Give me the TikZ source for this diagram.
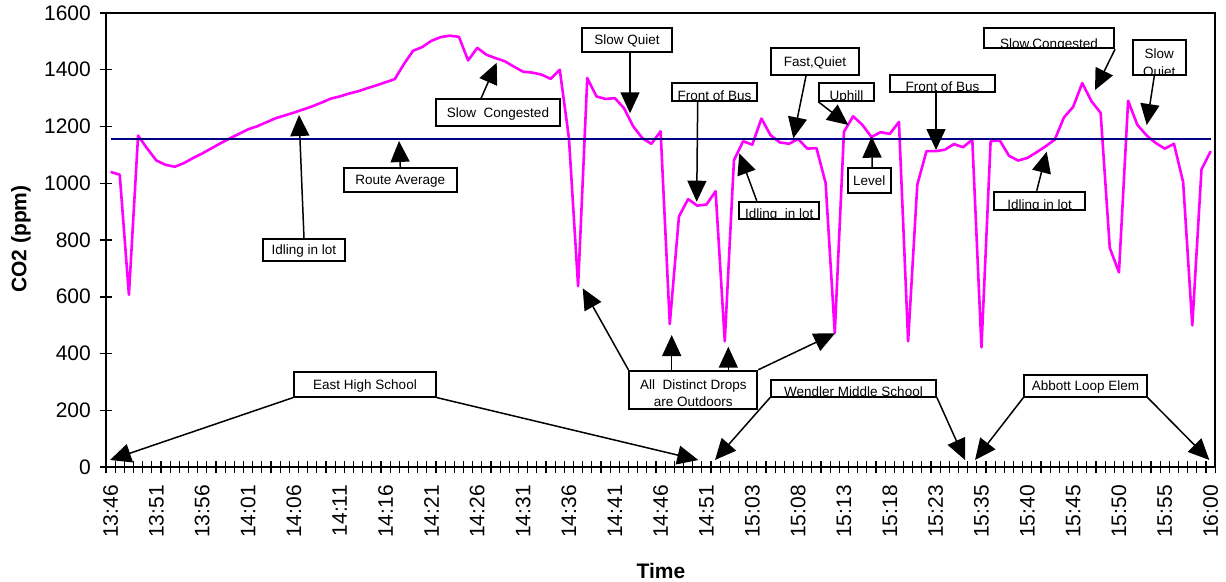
\documentclass[tikz,border=0pt]{standalone}
\usepackage{fontspec}
\setmainfont{Liberation Sans}
\usetikzlibrary{arrows.meta}
\definecolor{routeblue}{RGB}{0,0,128}
\definecolor{co2pink}{RGB}{255,0,255}
\newcommand{\notefont}{\fontsize{13.5}{17.5}\selectfont}
\newcommand{\axisfont}{\fontsize{21}{25}\selectfont}
\tikzset{
	note/.style={draw, line width=1.8pt, fill=white, inner sep=0pt, font=\notefont, text height=9.7pt, text depth=0pt},
	cutnote/.style={draw, line width=1.8pt, fill=white, inner sep=0pt,
		path picture={\node[font=\notefont, inner sep=0pt, minimum width=0pt, minimum height=0pt, anchor=base] at ([yshift=0.3pt]path picture bounding box.south) {#1};}},
	cutpair/.style={draw, line width=1.8pt, fill=white, inner sep=0pt,
		path picture={\node[font=\notefont, align=center, inner sep=0pt, minimum width=0pt, minimum height=0pt, anchor=north] at ([yshift=-8pt]path picture bounding box.north) {#1};}},
	pointer/.style={line width=1.5pt, -{Triangle[length=21pt,width=19pt]}},
}
\begin{document}
\begin{tikzpicture}[x=1pt, y=-1pt]
	\useasboundingbox (0,0) rectangle (1226,581);
	
	\begin{scope}[shift={(106,467)}, x=9.167pt, y=0.28375pt]
		\draw[co2pink, line width=2.6pt, line join=round] (0.5,1040)
		\foreach \v [count=\i] in {1030,607,1168,1122,1080,1065,1058,1071,1089,1105,
			1123,1141,1158,1174,1190,1201,1215,1229,1239,1249,
			1260,1271,1284,1298,1306,1316,1324,1335,1345,1356,
			1367,1420,1467,1480,1502,1515,1520,1516,1433,1477,
			1453,1441,1430,1411,1393,1390,1383,1368,1400,1159,
			637,1371,1306,1297,1300,1265,1201,1159,1139,1183,
			504,883,944,921,925,972,443,1081,1148,1136,
			1228,1169,1144,1139,1156,1122,1124,1001,472,1181,
			1236,1206,1163,1180,1174,1216,443,995,1113,1113,
			1118,1138,1127,1154,422,1148,1151,1097,1080,1089,
			1109,1130,1154,1232,1269,1353,1289,1248,772,686,
			1291,1206,1169,1142,1122,1139,1004,499,1048,1113} { -- (\i+0.5,\v) };
		\draw[routeblue, line width=2.8pt] (0.5,1156) -- (120.5,1156);
	\end{scope}
	
	\draw[line width=1.2pt] (106,13) -- (1215,13) -- (1215,467);
	\draw[line width=2pt] (106,13) -- (106,467) -- (1215,467);
	\foreach \k in {0,...,121}
		\draw[line width=1.2pt] ({106+9.167*\k},461) -- ({106+9.167*\k},473);
	\foreach \v in {0,200,...,1600} {
		\draw[line width=1.5pt] (100,{467-0.28375*\v}) -- (112,{467-0.28375*\v});
		\node[font=\axisfont, anchor=east, inner sep=0pt] (ylab\v) at (91,{467-0.28375*\v}) {\v};
	}
	\foreach \lab [count=\k from 0] in {13:46,13:51,13:56,14:01,14:06,14:11,14:16,14:21,14:26,14:31,14:36,14:41,14:46,14:51,15:03,15:08,15:13,15:18,15:23,15:35,15:40,15:45,15:50,15:55,16:00}
		\node[font=\axisfont, rotate=90, anchor=east, inner sep=0pt] (xlab\k) at ({106+9.167*(5*\k+0.5)},485) {\lab};
	\node[font=\axisfont\bfseries] (xtitle) at (661,571) {Time};
	\node[font=\axisfont\bfseries, rotate=90] (ytitle) at (21,239) {CO2 (ppm)};
	
	\node[note, minimum width=82pt, minimum height=22pt] (idle1) at (304,250) {Idling in lot};
	\node[note, minimum width=112.7pt, minimum height=24pt] (route) at (400.3,180) {Route Average};
	\node[note, minimum width=124pt, minimum height=26.7pt] (slowcong) at (498,112.7) {Slow\ \ Congested};
	\node[note, minimum width=90.6pt, minimum height=23.7pt] (slowq1) at (627,39.8) {Slow Quiet};
	\node[cutnote={Front of Bus}, minimum width=85.6pt, minimum height=17.4pt] (bus1) at (714.5,92) {};
	\node[note, minimum width=88.3pt, minimum height=27.3pt] (fastq) at (815,61.3) {Fast,Quiet};
	\node[cutnote={Uphill}, minimum width=55pt, minimum height=17.4pt] (uphill) at (846.5,92) {};
	\node[note, minimum width=43pt, minimum height=25pt] (level) at (869.2,180.2) {Level};
	\node[cutnote={Front of Bus}, minimum width=105pt, minimum height=17pt] (bus2) at (942.5,83.5) {};
	\node[cutnote={Idling\ \ in lot}, minimum width=80pt, minimum height=17.3pt] (idle2) at (779.3,210.3) {};
	\node[cutnote={Slow,Congested}, minimum width=130.3pt, minimum height=20pt] (slowcong2) at (1049,38.3) {};
	\node[cutpair={Slow\\Quiet}, minimum width=53.3pt, minimum height=35pt] (slowq2) at (1159.3,57.5) {};
	\node[cutnote={Idling in lot}, minimum width=90.7pt, minimum height=18.3pt] (idle3) at (1039.7,200.8) {};
	\node[note, minimum width=142pt, minimum height=25pt] (east) at (365,384.2) {East High School};
	\node[cutpair={All\ \ Distinct Drops\\are Outdoors}, minimum width=128pt, minimum height=38.6pt] (drops) at (693.3,390) {};
	\node[cutnote={Wendler Middle School}, minimum width=165pt, minimum height=16.7pt] (wendler) at (853.5,388.3) {};
	\node[note, minimum width=122.4pt, minimum height=21.7pt] (abbott) at (1085.5,385.8) {Abbott Loop Elem};
	
	\coordinate (idle1tip) at (299,115);
	\coordinate (routetip) at (399,141);
	\coordinate (slowcongtip) at (496.7,62.7);
	\coordinate (slowq1tip) at (630,113.3);
	\coordinate (bus1tip) at (696.7,201.7);
	\coordinate (fastqtip) at (793.3,138.3);
	\coordinate (uphilltip) at (848.3,125);
	\coordinate (leveltip) at (871.7,136.7);
	\coordinate (bus2tip) at (936,150);
	\coordinate (idle2tip) at (739.3,153.3);
	\coordinate (slowcong2tip) at (1095,90);
	\coordinate (slowq2tip) at (1146.7,125);
	\coordinate (idle3tip) at (1046.7,151.7);
	\coordinate (easta) at (110,460);
	\coordinate (eastb) at (698.3,460);
	\coordinate (dropsa) at (582.7,288.3);
	\coordinate (dropsb) at (671.7,335);
	\coordinate (dropsc) at (728.3,346.7);
	\coordinate (dropsd) at (835,333.3);
	\coordinate (wendlera) at (715,460);
	\coordinate (wendlerb) at (965,460);
	\coordinate (abbotta) at (975,460);
	\coordinate (abbottb) at (1209.3,460);
	
	\draw[pointer] (idle1.north) -- (idle1tip);
	\draw[pointer] (route.north) -- (routetip);
	\draw[pointer] ([xshift=-17pt]slowcong.north) -- (slowcongtip);
	\draw[pointer] ([xshift=3pt]slowq1.south) -- (slowq1tip);
	\draw[pointer] ([xshift=-16.8pt]bus1.south) -- (bus1tip);
	\draw[pointer] ([xshift=-9pt]fastq.south) -- (fastqtip);
	\draw[pointer] (uphill.south west) -- (uphilltip);
	\draw[pointer] ([xshift=3pt]level.north) -- (leveltip);
	\draw[pointer] ([xshift=-6.5pt]bus2.south) -- (bus2tip);
	\draw[pointer] ([xshift=-22.6pt]idle2.north) -- (idle2tip);
	\draw[pointer] (slowcong2.south east) -- (slowcong2tip);
	\draw[pointer] ([xshift=-5pt]slowq2.south) -- (slowq2tip);
	\draw[pointer] ([xshift=-3pt]idle3.north) -- (idle3tip);
	\draw[pointer] (east.south west) -- (easta);
	\draw[pointer] (east.south east) -- (eastb);
	\draw[pointer] (drops.north west) -- (dropsa);
	\draw[pointer] ([xshift=-21.6pt]drops.north) -- (dropsb);
	\draw[pointer] ([xshift=35pt]drops.north) -- (dropsc);
	\draw[pointer] (drops.north east) -- (dropsd);
	\draw[pointer] (wendler.south west) -- (wendlera);
	\draw[pointer] (wendler.south east) -- (wendlerb);
	\draw[pointer] (abbott.south west) -- (abbotta);
	\draw[pointer] (abbott.south east) -- (abbottb);
\end{tikzpicture}
\end{document}
